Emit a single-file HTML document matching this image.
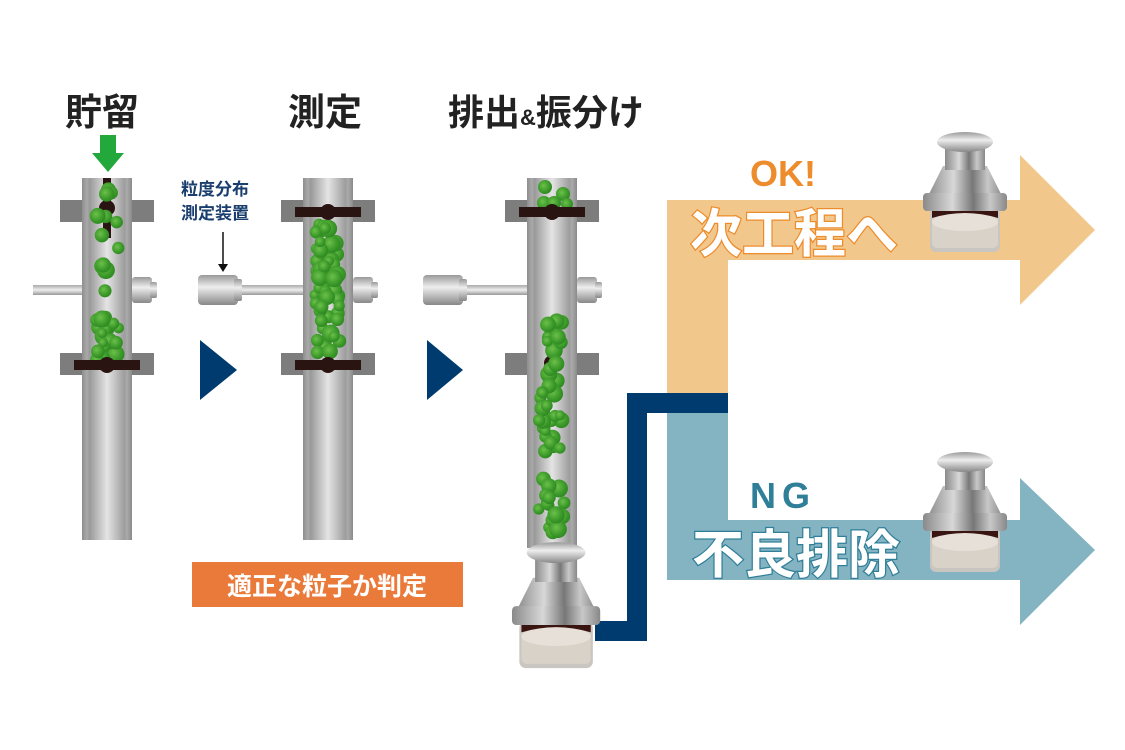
<!DOCTYPE html>
<html><head><meta charset="utf-8">
<style>
html,body{margin:0;padding:0;background:#fff;}
svg{display:block;}
text{font-family:"Liberation Sans","Noto Sans CJK JP",sans-serif;font-weight:bold;}
</style></head>
<body>
<svg id="s" width="1125" height="750" viewBox="0 0 1125 750" xmlns="http://www.w3.org/2000/svg">
<defs>
<linearGradient id="tube" x1="0" x2="1" y1="0" y2="0">
<stop offset="0" stop-color="#8e8e8e"/><stop offset="0.1" stop-color="#a9a9a9"/><stop offset="0.15" stop-color="#999"/><stop offset="0.5" stop-color="#e4e4e4"/><stop offset="0.85" stop-color="#9d9d9d"/><stop offset="0.9" stop-color="#aaa"/><stop offset="1" stop-color="#8a8a8a"/>
</linearGradient>
<linearGradient id="rod" x1="0" x2="0" y1="0" y2="1">
<stop offset="0" stop-color="#aaa"/><stop offset="0.5" stop-color="#eee"/><stop offset="1" stop-color="#999"/>
</linearGradient>
<linearGradient id="metal" x1="0" x2="1" y1="0" y2="0">
<stop offset="0" stop-color="#8a8a8a"/><stop offset="0.35" stop-color="#d8d8d8"/><stop offset="0.6" stop-color="#777"/><stop offset="0.8" stop-color="#c8c8c8"/><stop offset="1" stop-color="#888"/>
</linearGradient>
<linearGradient id="cap" x1="0" x2="0" y1="0" y2="1">
<stop offset="0" stop-color="#999"/><stop offset="0.4" stop-color="#eee"/><stop offset="1" stop-color="#888"/>
</linearGradient>
<radialGradient id="ball" cx="0.4" cy="0.4" r="0.6">
<stop offset="0" stop-color="#6cc04a"/><stop offset="0.7" stop-color="#3c9a2a"/><stop offset="1" stop-color="#2f8a22"/>
</radialGradient>
<g id="cup">
<rect x="7" y="78" width="70" height="44" rx="6" fill="#c9c6c1"/>
<rect x="9" y="78" width="66" height="40" rx="5" fill="#d8d2c8"/>
<ellipse cx="42" cy="92" rx="33" ry="9" fill="#e6e0d8"/>
<path d="M2 66 Q42 58 82 66 L82 76 L2 76Z" fill="#3a1410"/>
<path d="M9 78 Q42 70 75 78 L75 88 Q42 78 9 88Z" fill="#3a1410"/>
<path d="M4 68 L20 36 L64 36 L80 68Z" fill="url(#metal)"/>
<rect x="22" y="16" width="40" height="24" fill="url(#metal)"/>
<rect x="0" y="63" width="84" height="18" rx="4" fill="url(#metal)"/>
<ellipse cx="42" cy="12" rx="28" ry="10" fill="url(#cap)"/>
</g>
</defs>

<text x="65" y="125" font-size="37" fill="#222">貯留</text>
<text x="288" y="125" font-size="37" fill="#222">測定</text>
<text x="448" y="125" font-size="36" fill="#222">排出<tspan font-size="22">&amp;</tspan>振分け</text>

<path d="M100 135 H116 V153 H124 L108 172 L92 153 H100Z" fill="#23a83c"/>

<path d="M667 200 H1020 V155 L1095 230 L1020 305 V260 H728 V395 H667Z" fill="#f2c78b"/>
<path d="M667 395 H728 V520 H1020 V478 L1095 550 L1020 625 V580 H667Z" fill="#84b3c2"/>
<path d="M595 631 H637 V403 H728" fill="none" stroke="#003b70" stroke-width="20"/>

<path d="M200 340 L237 370 L200 400Z" fill="#003b70"/>
<path d="M427 340 L463 370 L427 400Z" fill="#003b70"/>

<g id="tubes"></g>

<text x="181" y="195" font-size="17" fill="#1a3e6e">粒度分布</text>
<text x="181" y="219" font-size="17" fill="#1a3e6e">測定装置</text>
<path d="M223 232 V268" stroke="#111" stroke-width="1.5"/><path d="M218 264 L223 272 L228 264Z" fill="#111"/>

<rect x="192" y="562" width="271" height="45" fill="#ea7a3a"/>
<text x="327" y="595" font-size="25" fill="#fff" text-anchor="middle">適正な粒子か判定</text>

<text x="750" y="186" font-size="36" fill="#ec8c2c">OK!</text>
<text x="690" y="252" font-size="52" fill="#fff" stroke="#ec8c2c" stroke-width="2.5" paint-order="stroke">次工程へ</text>
<text x="750" y="508" font-size="36" fill="#2f7f99" letter-spacing="6">NG</text>
<text x="692" y="573" font-size="52" fill="#fff" stroke="#2f7f99" stroke-width="2.5" paint-order="stroke">不良排除</text>

<use href="#cup" x="923" y="130"/>
<use href="#cup" x="923" y="450"/>
<use href="#cup" x="512" y="540" transform="translate(512 540) scale(1.05) translate(-512 -540)"/>
</svg>
<script>
var NS="http://www.w3.org/2000/svg",g=document.getElementById('tubes');
function el(t,a){var e=document.createElementNS(NS,t);for(var k in a)e.setAttribute(k,a[k]);g.appendChild(e);return e;}
var seed=7;function rnd(){seed=(seed*9301+49297)%233280;return seed/233280;}
function flange(x,y){el('rect',{x:x-22,y:y,width:94,height:22,fill:'#7d7d7d'});}
function tube(x,top,bot){el('rect',{x:x,y:top,width:50,height:bot-top,fill:'url(#tube)'});}
function hbar(x,y){el('rect',{x:x-8,y:y-5,width:66,height:10,fill:'#2a1412'});el('circle',{cx:x+25,cy:y,r:8,fill:'#2a1412'});}
function vbar(x,y){el('rect',{x:x+21,y:y-30,width:8,height:60,fill:'#2a1412'});el('circle',{cx:x+25,cy:y,r:8,fill:'#2a1412'});}
function balls(x,y0,y1,n,rmin,rmax){for(var i=0;i<n;i++){var r=rmin+rnd()*(rmax-rmin);el('circle',{cx:x+6+r+rnd()*(38-2*r),cy:y0+rnd()*(y1-y0),r:r,fill:'url(#ball)'});}}
function rodL(x0,x1,y){el('rect',{x:x0,y:y-5,width:x1-x0,height:10,fill:'url(#rod)'});}
function capR(x,y){el('rect',{x:x,y:y-13,width:20,height:26,rx:3,fill:'url(#cap)'});el('rect',{x:x+18,y:y-8,width:7,height:16,rx:2,fill:'url(#cap)'});}
function sensor(x,y){el('rect',{x:x,y:y-15,width:40,height:30,rx:4,fill:'url(#cap)'});el('rect',{x:x+36,y:y-11,width:8,height:22,rx:2,fill:'url(#cap)'});}
flange(82,200);flange(82,353);tube(82,178,540);
rodL(33,82,290);capR(132,290);
vbar(82,208);balls(82,182,250,8,6,9);balls(82,255,320,5,6,9);balls(82,318,360,22,5,9);hbar(82,365);
flange(303,200);flange(303,353);tube(303,178,540);
sensor(198,290);rodL(242,303,290);capR(353,290);
balls(303,224,356,55,5,9);hbar(303,212);hbar(303,365);
flange(527,200);flange(527,353);tube(527,178,548);
sensor(423,290);rodL(467,527,290);capR(577,290);
el('circle',{cx:545,cy:187,r:7,fill:'url(#ball)'});el('circle',{cx:563,cy:194,r:7,fill:'url(#ball)'});el('circle',{cx:544,cy:203,r:7,fill:'url(#ball)'});el('circle',{cx:554,cy:203,r:7,fill:'url(#ball)'});el('circle',{cx:567,cy:204,r:6,fill:'url(#ball)'});
hbar(527,212);vbar(527,363);balls(527,318,545,55,5,9);
</script>
</body></html>
